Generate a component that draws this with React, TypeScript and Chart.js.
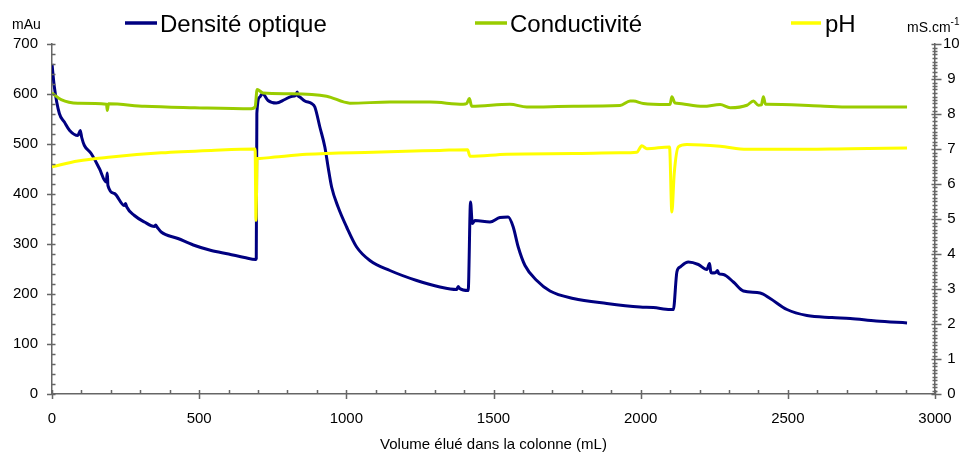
import React, { useEffect, useRef } from "react";
import { Chart, registerables } from "chart.js";

Chart.register(...registerables);

// ---- Data ----
const odX = [0, 8, 25, 42, 60, 88, 96, 101, 110, 133, 161, 184, 188, 190, 212, 246, 250, 254, 280, 314, 348, 352, 358, 371, 428, 480, 541, 600, 654, 692, 694, 696, 706, 715, 734, 762, 791, 813, 828, 833, 837, 842, 859, 882, 893, 910, 927, 938, 950, 972, 1001, 1035, 1080, 1148, 1239, 1318, 1375, 1380, 1385, 1414, 1422, 1428, 1437, 1488, 1522, 1550, 1567, 1584, 1607, 1647, 1692, 1771, 1885, 1998, 2043, 2100, 2111, 2123, 2134, 2162, 2196, 2225, 2234, 2238, 2242, 2255, 2261, 2265, 2281, 2315, 2349, 2406, 2440, 2497, 2565, 2650, 2712, 2800, 2905];
const odY = [660, 614, 561, 544, 527, 517, 527, 513, 497, 481, 451, 424, 442, 417, 401, 377, 381, 374, 357, 344, 335, 338, 333, 324, 311, 298, 287, 280, 273, 269, 271, 561, 594, 601, 587, 582, 589, 595, 597, 604, 596, 594, 586, 581, 574, 534, 494, 454, 414, 374, 334, 294, 267, 247, 227, 214, 209, 215, 211, 207, 384, 341, 347, 344, 353, 354, 334, 294, 257, 227, 206, 191, 181, 174, 173, 169, 169, 244, 254, 264, 259, 249, 261, 245, 242, 243, 247, 241, 239, 224, 206, 202, 191, 169, 157, 153, 151, 146, 142];

const condX = [0, 31, 88, 185, 188, 192, 315, 485, 677, 690, 697, 717, 808, 933, 1012, 1148, 1284, 1397, 1409, 1418, 1426, 1556, 1613, 1771, 1930, 1964, 1975, 2009, 2089, 2100, 2106, 2116, 2123, 2213, 2270, 2304, 2361, 2383, 2400, 2410, 2417, 2424, 2429, 2610, 2712, 2905];
const condY = [8.6, 8.41, 8.31, 8.28, 8.1, 8.29, 8.22, 8.18, 8.15, 8.2, 8.7, 8.6, 8.58, 8.51, 8.31, 8.34, 8.34, 8.28, 8.3, 8.44, 8.22, 8.28, 8.2, 8.22, 8.24, 8.37, 8.37, 8.3, 8.27, 8.28, 8.49, 8.32, 8.31, 8.22, 8.27, 8.18, 8.25, 8.37, 8.25, 8.26, 8.49, 8.28, 8.28, 8.23, 8.2, 8.2];

const phX = [0, 88, 201, 371, 541, 690, 693, 697, 706, 757, 865, 1091, 1318, 1412, 1420, 1545, 1771, 1930, 1987, 2004, 2021, 2098, 2106, 2114, 2128, 2157, 2270, 2361, 2497, 2712, 2905];
const phY = [6.49, 6.66, 6.77, 6.89, 6.96, 7.0, 4.96, 6.73, 6.73, 6.77, 6.85, 6.91, 6.96, 6.98, 6.79, 6.85, 6.87, 6.89, 6.91, 7.09, 7.01, 7.06, 5.2, 6.3, 7.06, 7.13, 7.08, 6.99, 6.99, 7.01, 7.03];

const seriesLabels = ["Densité optique", "Conductivité", "pH"];
const seriesColors = ["#000080", "#99CC00", "#FFFF00"];
const xTitle = "Volume élué dans la colonne (mL)";
const leftUnit = "mAu";
const rightUnit = "mS.cm";
const rightUnitSup = "-1";

const xMin = 0, xMax = 3000, xStep = 500, xMinor = 100;
const yMin = 0, yMax = 700, yStep = 100, yMinor = 20;
const y2Min = 0, y2Max = 10, y2Step = 1, y2Minor = 0.1;

const FONT = '"Liberation Sans", Arial, sans-serif';

const toPts = (xs: number[], ys: number[]) => xs.map((x, i) => ({ x, y: ys[i] }));

const decorPlugin = {
  id: "decor",
  afterDraw(chart: any) {
    const ctx = chart.ctx as CanvasRenderingContext2D;
    const xs = chart.scales.x, yl = chart.scales.y, yr = chart.scales.y2;
    const area = chart.chartArea;
    ctx.save();
    ctx.strokeStyle = "#666";
    ctx.lineWidth = 1.5;
    ctx.beginPath();
    const ax = area.bottom;
    for (let v = xMin; v <= xMax + 1e-6; v += xMinor) {
      const p = Math.round(xs.getPixelForValue(v)) + 0.5;
      const major = Math.abs(v / xStep - Math.round(v / xStep)) < 1e-6;
      ctx.moveTo(p, ax - 4);
      ctx.lineTo(p, major ? ax + 5 : ax);
    }
    const lx = area.left;
    for (let v = yMin; v <= yMax + 1e-6; v += yMinor) {
      const p = Math.round(yl.getPixelForValue(v)) + 0.5;
      const major = Math.abs(v / yStep - Math.round(v / yStep)) < 1e-6;
      ctx.moveTo(major ? lx - 5 : lx, p);
      ctx.lineTo(lx + 3.5, p);
    }
    const rx = area.right;
    for (let i = 0; i <= Math.round((y2Max - y2Min) / y2Minor); i++) {
      const v = y2Min + i * y2Minor;
      const p = Math.round(yr.getPixelForValue(v)) + 0.5;
      const major = i % Math.round(y2Step / y2Minor) === 0;
      if (major) {
        ctx.moveTo(rx - 3.5, p);
        ctx.lineTo(rx + 6.5, p);
      } else {
        ctx.moveTo(rx - 2.5, p);
        ctx.lineTo(rx + 2.5, p);
      }
    }
    ctx.stroke();

    const legendPos = [
      { x1: 125, x2: 157, tx: 160 },
      { x1: 475, x2: 507, tx: 510 },
      { x1: 791, x2: 821, tx: 825 },
    ];
    ctx.lineWidth = 3.5;
    ctx.font = `24px ${FONT}`;
    ctx.textBaseline = "alphabetic";
    ctx.textAlign = "left";
    legendPos.forEach((lp, i) => {
      ctx.strokeStyle = seriesColors[i];
      ctx.beginPath();
      ctx.moveTo(lp.x1, 23);
      ctx.lineTo(lp.x2, 23);
      ctx.stroke();
      ctx.fillStyle = "#000";
      ctx.fillText(seriesLabels[i], lp.tx, 32);
    });

    ctx.fillStyle = "#000";
    ctx.font = `14px ${FONT}`;
    ctx.fillText(leftUnit, 12, 29);
    ctx.fillText(rightUnit, 907, 32);
    const w = ctx.measureText(rightUnit).width;
    ctx.font = `10px ${FONT}`;
    ctx.fillText(rightUnitSup, 907 + w, 25);
    ctx.restore();
  },
};

const plain = (v: any) => String(v);

export default function App() {
  const ref = useRef<HTMLCanvasElement>(null);
  useEffect(() => {
    if (!ref.current) return;
    const line = { borderWidth: 3, pointRadius: 0, cubicInterpolationMode: "monotone" };
    const chart = new Chart(ref.current, {
      type: "line",
      data: {
        datasets: [
          { ...line, label: seriesLabels[0], data: toPts(odX, odY), borderColor: seriesColors[0], yAxisID: "y", order: 3 },
          { ...line, label: seriesLabels[1], data: toPts(condX, condY), borderColor: seriesColors[1], yAxisID: "y2", order: 2 },
          { ...line, label: seriesLabels[2], data: toPts(phX, phY), borderColor: seriesColors[2], yAxisID: "y2", order: 1 },
        ],
      },
      options: {
        responsive: false,
        animation: false,
        layout: { padding: { top: 44, left: 0, right: 0, bottom: 0 } },
        plugins: { legend: { display: false }, tooltip: { enabled: false } },
        scales: {
          x: {
            type: "linear",
            min: xMin,
            max: xMax,
            grid: { display: false, drawTicks: false },
            border: { display: true, color: "#666", width: 1.5 },
            ticks: { stepSize: xStep, color: "#000", font: { family: FONT, size: 15 }, padding: 16, maxRotation: 0, callback: plain },
            title: { display: true, text: xTitle, color: "#000", font: { family: FONT, size: 15 }, padding: { top: 0, bottom: 0 } },
            afterFit: (s: any) => { s.height = 60; },
          },
          y: {
            type: "linear",
            position: "left",
            min: yMin,
            max: yMax,
            grid: { display: false, drawTicks: false },
            border: { display: true, color: "#666", width: 1.5 },
            ticks: { stepSize: yStep, color: "#000", font: { family: FONT, size: 15 }, padding: 14, callback: plain },
            afterFit: (s: any) => { s.width = 52; },
          },
          y2: {
            type: "linear",
            position: "right",
            min: y2Min,
            max: y2Max,
            grid: { display: false, drawTicks: false },
            border: { display: true, color: "#666", width: 1.5 },
            ticks: { stepSize: y2Step, color: "#000", font: { family: FONT, size: 15 }, padding: 8, crossAlign: "center", callback: plain },
            afterFit: (s: any) => { s.width = 36; },
          },
        },
      },
      plugins: [decorPlugin],
    } as any);
    return () => chart.destroy();
  }, []);
  return (
    <div style={{ position: "absolute", left: 0, top: 0, width: 971, height: 454, background: "#fff" }}>
      <canvas ref={ref} width={971} height={454} style={{ display: "block" }} />
    </div>
  );
}
